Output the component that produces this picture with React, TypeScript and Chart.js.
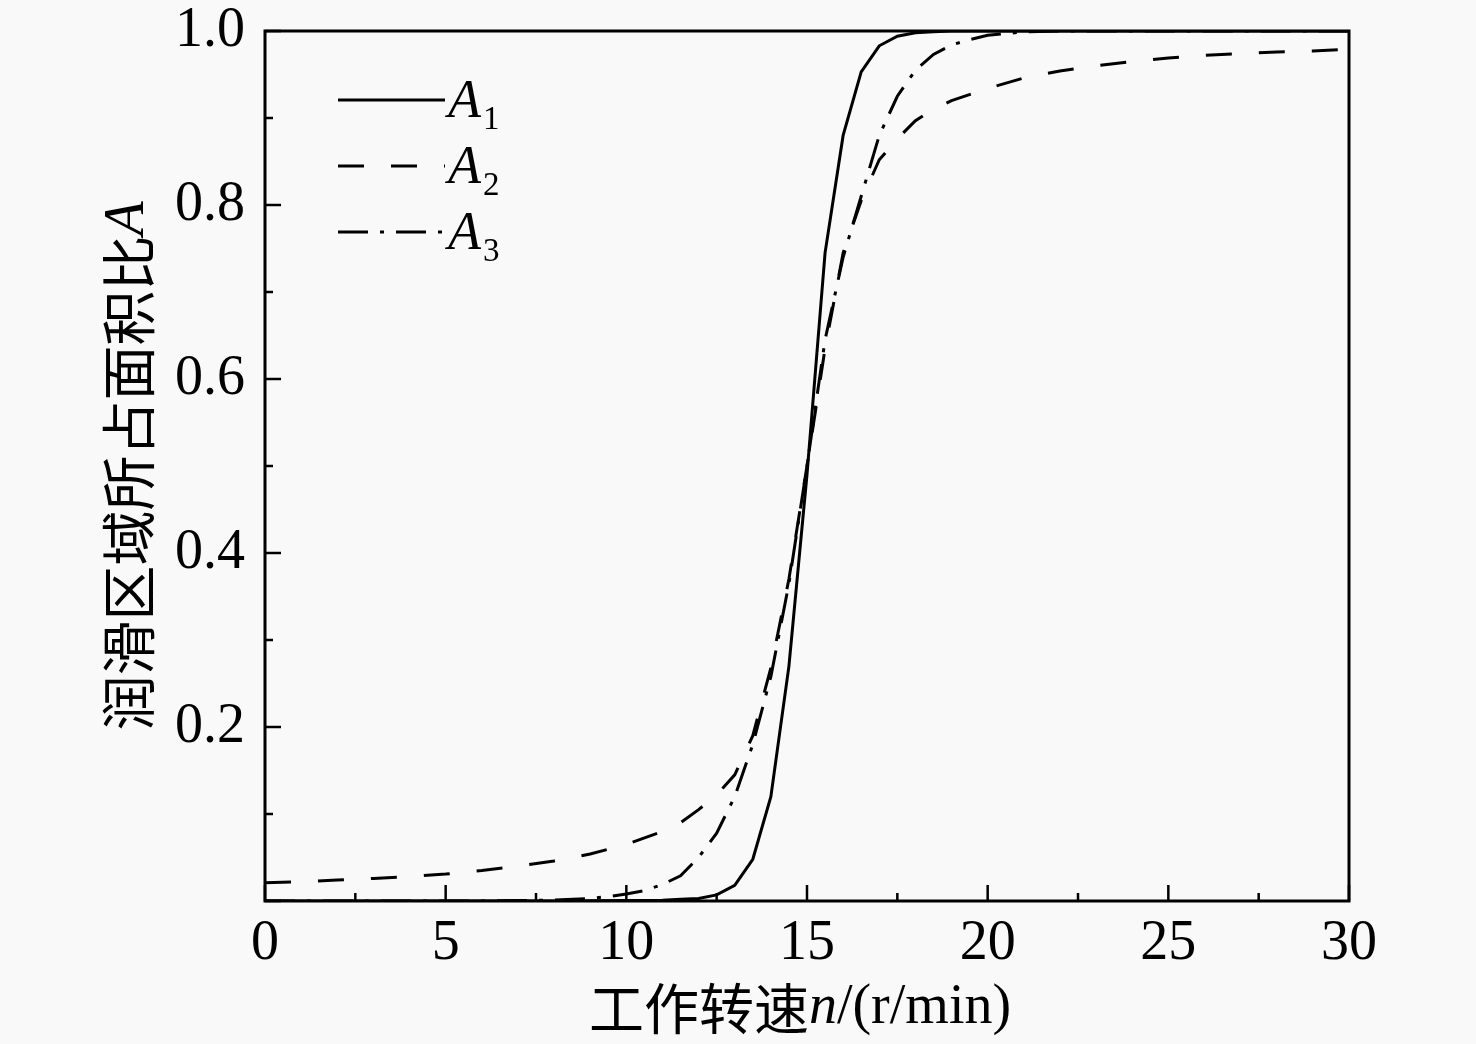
import { useEffect, useRef } from "react";
import { Chart, registerables } from "chart.js";

Chart.register(...registerables);

// working speed n (r/min) and area ratio for each series
const speedA1 = [0, 2, 4, 6, 8, 10, 11, 11.5, 12, 12.5, 13, 13.5, 14, 14.5, 15, 15.5, 16, 16.5, 17, 17.5, 18, 18.5, 19, 20, 22, 24, 26, 28, 30];
const areaA1 = [0, 0, 0, 0, 0, 0.0005, 0.001, 0.002, 0.003, 0.007, 0.018, 0.048, 0.12, 0.27, 0.49, 0.745, 0.88, 0.953, 0.983, 0.994, 0.998, 0.999, 1, 1, 1, 1, 1, 1, 1];

const speedA2 = [0, 1, 2, 3, 4, 5, 6, 7, 8, 9, 10, 11, 11.5, 12, 12.5, 13, 13.5, 14, 14.5, 15, 15.5, 16, 16.5, 17, 17.5, 18, 18.5, 19, 20, 21, 22, 23, 24, 25, 26, 27, 28, 29, 30];
const areaA2 = [0.021, 0.022, 0.024, 0.026, 0.028, 0.031, 0.035, 0.04, 0.046, 0.054, 0.065, 0.08, 0.09, 0.105, 0.122, 0.145, 0.19, 0.268, 0.37, 0.5, 0.635, 0.745, 0.805, 0.852, 0.876, 0.897, 0.91, 0.92, 0.934, 0.946, 0.954, 0.96, 0.965, 0.969, 0.972, 0.974, 0.976, 0.977, 0.979];

const speedA3 = [0, 2, 4, 6, 7, 8, 9, 9.5, 10, 10.5, 11, 11.5, 12, 12.5, 13, 13.5, 14, 14.5, 15, 15.5, 16, 16.5, 17, 17.5, 18, 18.5, 19, 19.5, 20, 21, 22, 24, 26, 28, 30];
const areaA3 = [0, 0, 0, 0, 0.0005, 0.001, 0.003, 0.005, 0.008, 0.012, 0.019, 0.029, 0.05, 0.078, 0.12, 0.18, 0.258, 0.365, 0.5, 0.645, 0.74, 0.81, 0.88, 0.925, 0.955, 0.973, 0.984, 0.99, 0.995, 0.999, 1, 1, 1, 1, 1];

const seriesNames = ["A", "A", "A"];
const seriesSubs = ["1", "2", "3"];
const seriesDashes = [[], [26, 27], [30, 12, 4, 12]];

const xMin = 0;
const xMax = 30;
const xMajor = 5;
const xMinor = 2.5;
const yMin = 0;
const yMax = 1;
const yMajor = 0.2;
const yMinor = 0.1;

const xTitle = [
  { text: "工作转速", kind: "cjk" },
  { text: "n", kind: "italic" },
  { text: "/(r/min)", kind: "serif" },
];
const yTitle = [
  { text: "润滑区域所占面积比", kind: "cjk" },
  { text: "A", kind: "italic" },
];

const SERIF = "'Liberation Serif', 'DejaVu Serif', serif";
const CJK = "'Noto Sans CJK SC', sans-serif";

function fontFor(kind: string) {
  if (kind === "cjk") return `55px ${CJK}`;
  if (kind === "italic") return `italic 56px ${SERIF}`;
  return `56px ${SERIF}`;
}

function drawParts(ctx: CanvasRenderingContext2D, parts: { text: string; kind: string }[], cx: number, cy: number) {
  let total = 0;
  for (const p of parts) {
    ctx.font = fontFor(p.kind);
    total += ctx.measureText(p.text).width;
  }
  let x = cx - total / 2;
  ctx.textBaseline = "middle";
  ctx.textAlign = "left";
  for (const p of parts) {
    ctx.font = fontFor(p.kind);
    ctx.fillText(p.text, x, cy);
    x += ctx.measureText(p.text).width;
  }
}

const decorPlugin = {
  id: "decor",
  beforeDraw(chart: any) {
    const { ctx, width, height } = chart;
    ctx.save();
    ctx.fillStyle = "#f9f9f9";
    ctx.fillRect(0, 0, width, height);
    ctx.restore();
  },
  afterDraw(chart: any) {
    const { ctx, chartArea, scales } = chart;
    const { left, right, top, bottom } = chartArea;
    ctx.save();
    ctx.strokeStyle = "#000";
    ctx.fillStyle = "#000";
    ctx.lineWidth = 3;
    ctx.setLineDash([]);
    ctx.strokeRect(left, top, right - left, bottom - top);

    // inward ticks
    ctx.lineWidth = 2.5;
    const nx = Math.round((xMax - xMin) / xMinor);
    for (let i = 0; i <= nx; i++) {
      const v = xMin + i * xMinor;
      const px = scales.x.getPixelForValue(v);
      const len = Math.abs(v / xMajor - Math.round(v / xMajor)) < 1e-6 ? 16 : 8;
      ctx.beginPath();
      ctx.moveTo(px, bottom);
      ctx.lineTo(px, bottom - len);
      ctx.stroke();
    }
    const ny = Math.round((yMax - yMin) / yMinor);
    for (let i = 0; i <= ny; i++) {
      const v = yMin + i * yMinor;
      const py = scales.y.getPixelForValue(v);
      const len = Math.abs(v / yMajor - Math.round(v / yMajor)) < 1e-6 ? 16 : 8;
      ctx.beginPath();
      ctx.moveTo(left, py);
      ctx.lineTo(left + len, py);
      ctx.stroke();
    }

    // legend
    const legX = left + 73;
    const legY = top + 69;
    const legGap = 66;
    ctx.lineWidth = 3;
    seriesNames.forEach((name, i) => {
      const y = legY + i * legGap;
      ctx.setLineDash(seriesDashes[i]);
      ctx.beginPath();
      ctx.moveTo(legX, y);
      ctx.lineTo(legX + 107, y);
      ctx.stroke();
      ctx.setLineDash([]);
      ctx.textAlign = "left";
      ctx.textBaseline = "alphabetic";
      ctx.font = `italic 54px ${SERIF}`;
      ctx.fillText(name, legX + 110, y + 17);
      const w = ctx.measureText(name).width;
      ctx.font = `33px ${SERIF}`;
      ctx.fillText(seriesSubs[i], legX + 110 + w + 2, y + 29);
    });

    // axis titles
    drawParts(ctx, xTitle, (left + right) / 2 - 7, 1008);
    ctx.save();
    ctx.translate(128, (top + bottom) / 2);
    ctx.rotate(-Math.PI / 2);
    drawParts(ctx, yTitle, 0, 0);
    ctx.restore();

    ctx.restore();
  },
};

export default function App() {
  const canvasRef = useRef<HTMLCanvasElement>(null);

  useEffect(() => {
    document.body.style.margin = "0";
    if (!canvasRef.current) return;
    const ctx = canvasRef.current.getContext("2d");
    if (!ctx) return;

    const toPoints = (xs: number[], ys: number[]) => xs.map((x, i) => ({ x, y: ys[i] }));

    const chart = new Chart(ctx, {
      type: "line",
      data: {
        datasets: [
          { label: "A1", data: toPoints(speedA1, areaA1), borderDash: seriesDashes[0] },
          { label: "A2", data: toPoints(speedA2, areaA2), borderDash: seriesDashes[1] },
          { label: "A3", data: toPoints(speedA3, areaA3), borderDash: seriesDashes[2] },
        ].map((d) => ({
          ...d,
          borderColor: "#000",
          borderWidth: 3,
          pointRadius: 0,
          tension: 0,
          fill: false,
        })),
      },
      options: {
        responsive: false,
        animation: false,
        layout: { padding: { left: 0, top: 31, right: 127, bottom: 0 } },
        plugins: { legend: { display: false }, tooltip: { enabled: false } },
        scales: {
          x: {
            type: "linear",
            min: xMin,
            max: xMax,
            grid: { display: false, drawTicks: false },
            border: { display: false },
            ticks: {
              stepSize: xMajor,
              padding: 10,
              color: "#000",
              font: { family: SERIF, size: 56 },
              maxRotation: 0,
            },
            afterFit: (scale: any) => {
              scale.height = 143;
              scale.paddingLeft = 0;
              scale.paddingRight = 0;
            },
          },
          y: {
            type: "linear",
            min: yMin,
            max: yMax,
            grid: { display: false, drawTicks: false },
            border: { display: false },
            ticks: {
              stepSize: yMajor,
              padding: 20,
              color: "#000",
              font: { family: SERIF, size: 56 },
              callback: (v: any) => (Number(v) === 0 ? "" : Number(v).toFixed(1)),
            },
            afterFit: (scale: any) => {
              scale.width = 265;
              scale.paddingTop = 0;
              scale.paddingBottom = 0;
            },
          },
        },
      },
      plugins: [decorPlugin],
    });

    return () => {
      chart.destroy();
    };
  }, []);

  return (
    <div style={{ position: "fixed", left: 0, top: 0, width: 1476, height: 1044 }}>
      <canvas ref={canvasRef} width={1476} height={1044} style={{ display: "block" }} />
    </div>
  );
}
